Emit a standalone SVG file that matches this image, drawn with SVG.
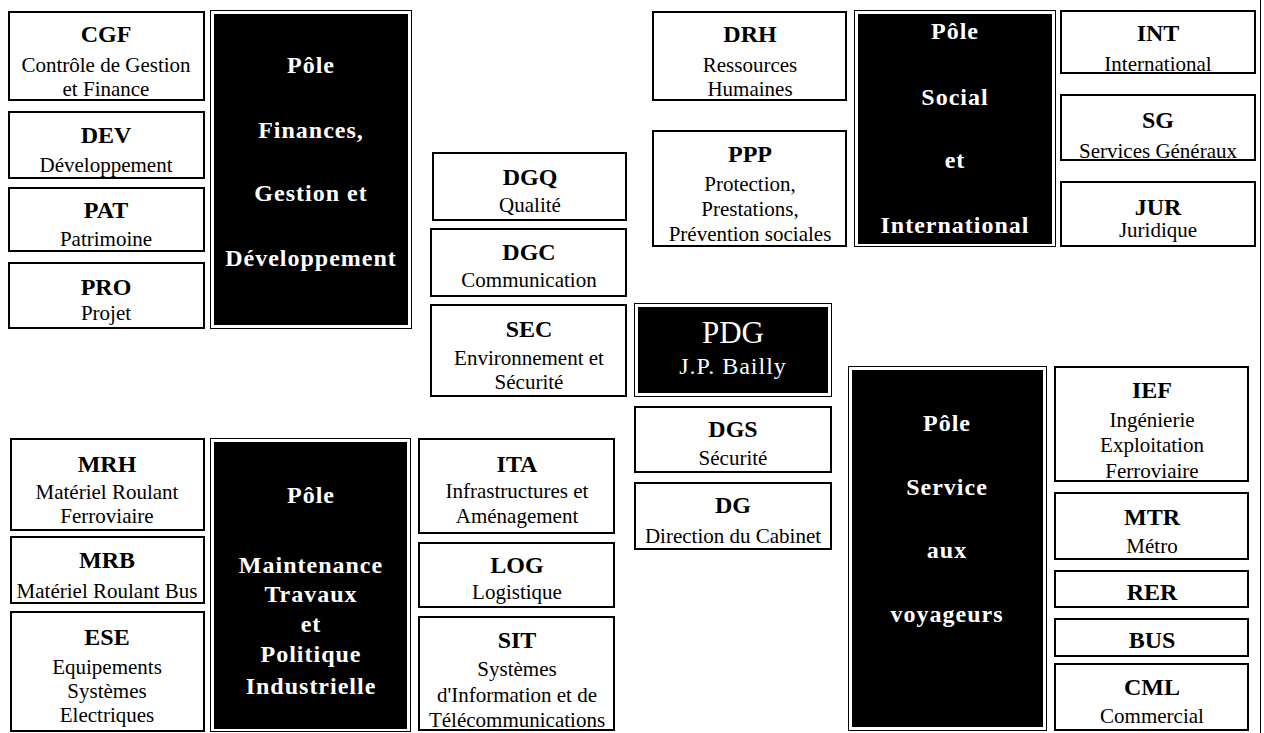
<svg xmlns="http://www.w3.org/2000/svg" width="1264" height="733" viewBox="0 0 1264 733">
<style>
.b{fill:#fff;stroke:#000;stroke-width:2;shape-rendering:crispEdges}
.po{fill:#fff;stroke:#000;stroke-width:1;shape-rendering:crispEdges}
.pi{fill:#000;shape-rendering:crispEdges}
text{font-family:"Liberation Serif","Times New Roman",serif;text-anchor:middle;fill:#000}
.t{font-size:24px;font-weight:bold}
.s{font-size:21px}
.p{font-size:24px;font-weight:bold;fill:#fff;letter-spacing:1px}
.w{fill:#fff}
</style>
<rect width="1264" height="733" fill="#fff"/>
<g id="connectors">
<line x1="1260.5" y1="0" x2="1260.5" y2="733" stroke="#000" stroke-width="1"/>
</g>
<g id="CGF"><rect class="b" x="9" y="12" width="195" height="88"/><text class="t" x="106" y="42">CGF</text><text class="s" x="106" y="72">Contrôle de Gestion</text><text class="s" x="106" y="96">et Finance</text></g>
<g id="DEV"><rect class="b" x="9" y="112" width="195" height="66"/><text class="t" x="106" y="143">DEV</text><text class="s" x="106" y="172">Développement</text></g>
<g id="PAT"><rect class="b" x="9" y="188" width="195" height="63"/><text class="t" x="106" y="218">PAT</text><text class="s" x="106" y="246">Patrimoine</text></g>
<g id="PRO"><rect class="b" x="9" y="263" width="195" height="65"/><text class="t" x="106" y="295">PRO</text><text class="s" x="106" y="320">Projet</text></g>
<g id="PoleFinances"><rect class="po" x="210.5" y="10.5" width="201" height="318"/><rect class="pi" x="214" y="14" width="194" height="311"/><text class="p" x="311" y="73">Pôle</text><text class="p" x="311" y="138">Finances,</text><text class="p" x="311" y="201">Gestion et</text><text class="p" x="311" y="266">Développement</text></g>
<g id="MRH"><rect class="b" x="11" y="439" width="193" height="91"/><text class="t" x="107" y="472">MRH</text><text class="s" x="107" y="499">Matériel Roulant</text><text class="s" x="107" y="523">Ferroviaire</text></g>
<g id="MRB"><rect class="b" x="11" y="537" width="193" height="66"/><text class="t" x="107" y="568">MRB</text><text class="s" x="107" y="598">Matériel Roulant Bus</text></g>
<g id="ESE"><rect class="b" x="11" y="612" width="193" height="119"/><text class="t" x="107" y="645">ESE</text><text class="s" x="107" y="674">Equipements</text><text class="s" x="107" y="698">Systèmes</text><text class="s" x="107" y="722">Electriques</text></g>
<g id="PoleMaintenance"><rect class="po" x="210.5" y="438.5" width="200" height="293"/><rect class="pi" x="214" y="442" width="193" height="287"/><text class="p" x="311" y="503">Pôle</text><text class="p" x="311" y="573">Maintenance</text><text class="p" x="311" y="602">Travaux</text><text class="p" x="311" y="632">et</text><text class="p" x="311" y="662">Politique</text><text class="p" x="311" y="694">Industrielle</text></g>
<g id="DGQ"><rect class="b" x="433" y="153" width="193" height="67"/><text class="t" x="530" y="185">DGQ</text><text class="s" x="530" y="212">Qualité</text></g>
<g id="DGC"><rect class="b" x="431" y="229" width="195" height="67"/><text class="t" x="529" y="260">DGC</text><text class="s" x="529" y="287">Communication</text></g>
<g id="SEC"><rect class="b" x="431" y="305" width="195" height="91"/><text class="t" x="529" y="337">SEC</text><text class="s" x="529" y="365">Environnement et</text><text class="s" x="529" y="389">Sécurité</text></g>
<g id="ITA"><rect class="b" x="419" y="439" width="195" height="94"/><text class="t" x="517" y="472">ITA</text><text class="s" x="517" y="498">Infrastructures et</text><text class="s" x="517" y="523">Aménagement</text></g>
<g id="LOG"><rect class="b" x="419" y="543" width="195" height="64"/><text class="t" x="517" y="573">LOG</text><text class="s" x="517" y="599">Logistique</text></g>
<g id="SIT"><rect class="b" x="419" y="617" width="195" height="113"/><text class="t" x="517" y="648">SIT</text><text class="s" x="517" y="676">Systèmes</text><text class="s" x="517" y="702">d'Information et de</text><text class="s" x="517" y="727">Télécommunications</text></g>
<g id="DRH"><rect class="b" x="653" y="12" width="193" height="88"/><text class="t" x="750" y="42">DRH</text><text class="s" x="750" y="72">Ressources</text><text class="s" x="750" y="96">Humaines</text></g>
<g id="PPP"><rect class="b" x="653" y="131" width="193" height="115"/><text class="t" x="750" y="162">PPP</text><text class="s" x="750" y="191">Protection,</text><text class="s" x="750" y="216">Prestations,</text><text class="s" x="750" y="241">Prévention sociales</text></g>
<g id="PDG"><rect class="po" x="634.5" y="303.5" width="197" height="93"/><rect class="pi" x="638" y="307" width="190" height="86"/><text class="w" x="733" y="343" style="font-size:31px">PDG</text><text class="w" x="733" y="374" style="font-size:24px;letter-spacing:1px">J.P. Bailly</text></g>
<g id="DGS"><rect class="b" x="635" y="407" width="196" height="65"/><text class="t" x="733" y="437">DGS</text><text class="s" x="733" y="465">Sécurité</text></g>
<g id="DG"><rect class="b" x="635" y="483" width="196" height="66"/><text class="t" x="733" y="513">DG</text><text class="s" x="733" y="543">Direction du Cabinet</text></g>
<g id="PoleSocial"><rect class="po" x="854.5" y="10.5" width="201" height="236"/><rect class="pi" x="858" y="14" width="194" height="230"/><text class="p" x="955" y="39">Pôle</text><text class="p" x="955" y="105">Social</text><text class="p" x="955" y="168">et</text><text class="p" x="955" y="233">International</text></g>
<g id="INT"><rect class="b" x="1061" y="11" width="194" height="62"/><text class="t" x="1158" y="41">INT</text><text class="s" x="1158" y="71">International</text></g>
<g id="SG"><rect class="b" x="1061" y="95" width="194" height="65"/><text class="t" x="1158" y="128">SG</text><text class="s" x="1158" y="158">Services Généraux</text></g>
<g id="JUR"><rect class="b" x="1061" y="182" width="194" height="64"/><text class="t" x="1158" y="215">JUR</text><text class="s" x="1158" y="237">Juridique</text></g>
<g id="PoleService"><rect class="po" x="848.5" y="366.5" width="198" height="364"/><rect class="pi" x="852" y="370" width="191" height="357"/><text class="p" x="947" y="431">Pôle</text><text class="p" x="947" y="495">Service</text><text class="p" x="947" y="558">aux</text><text class="p" x="947" y="622">voyageurs</text></g>
<g id="IEF"><rect class="b" x="1055" y="367" width="193" height="114"/><text class="t" x="1152" y="398">IEF</text><text class="s" x="1152" y="427">Ingénierie</text><text class="s" x="1152" y="452">Exploitation</text><text class="s" x="1152" y="478">Ferroviaire</text></g>
<g id="MTR"><rect class="b" x="1055" y="493" width="193" height="66"/><text class="t" x="1152" y="525">MTR</text><text class="s" x="1152" y="553">Métro</text></g>
<g id="RER"><rect class="b" x="1055" y="571" width="193" height="36"/><text class="t" x="1152" y="600">RER</text></g>
<g id="BUS"><rect class="b" x="1055" y="619" width="193" height="37"/><text class="t" x="1152" y="648">BUS</text></g>
<g id="CML"><rect class="b" x="1055" y="664" width="193" height="66"/><text class="t" x="1152" y="695">CML</text><text class="s" x="1152" y="723">Commercial</text></g>
</svg>
